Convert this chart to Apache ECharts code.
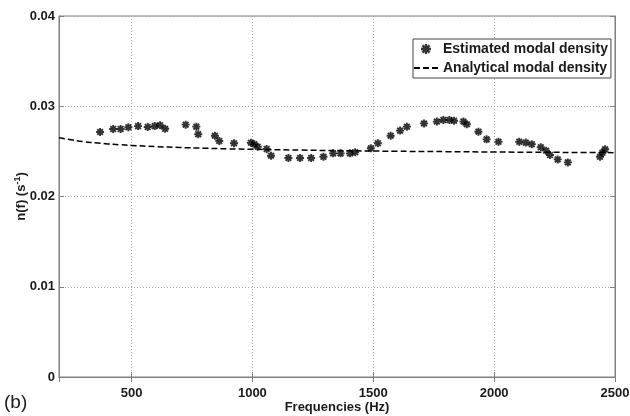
<!DOCTYPE html>
<html>
<head>
<meta charset="utf-8">
<script src="https://cdn.jsdelivr.net/npm/echarts@6/dist/echarts.min.js"></script>
<style>
  html, body { margin: 0; padding: 0; background: #fff; }
  #chart { width: 630px; height: 416px; }
</style>
</head>
<body>
<div id="chart"></div>
<script>
// estimated modal density (Hz, 1/s)
const estFreq = [370, 424, 455, 487, 527, 567, 596, 618, 639, 724, 768, 776,
    845, 863, 924, 994, 1008, 1022, 1059, 1077, 1149, 1197, 1243, 1294, 1334,
    1365, 1404, 1425, 1490, 1519, 1572, 1611, 1639, 1710, 1763, 1790, 1815, 1834,
    1873, 1887, 1935, 1969, 2018, 2104, 2131, 2156, 2193, 2215, 2231, 2263, 2305,
    2438, 2448, 2459];
const estValue = [0.02715, 0.02748, 0.02748, 0.02767, 0.0278, 0.0277, 0.0278, 0.0279, 0.0275, 0.02796, 0.02774, 0.0269,
    0.02674, 0.02615, 0.0259, 0.02596, 0.02578, 0.02552, 0.02526, 0.02452, 0.02427, 0.02427, 0.02427, 0.0244, 0.02478,
    0.02478, 0.02478, 0.0249, 0.02534, 0.0259, 0.02674, 0.0273, 0.02774, 0.0281, 0.0283, 0.02848, 0.02848, 0.0284,
    0.0283, 0.028, 0.02718, 0.02633, 0.02607, 0.02607, 0.02597, 0.0258, 0.02546, 0.02508, 0.0246, 0.02411, 0.02378,
    0.0244, 0.02485, 0.02523];

// analytical modal density
const anaFreq = [200, 250, 300, 350, 400, 450, 500, 600, 700, 800, 900, 1000, 1200, 1400, 1600, 1800, 2000, 2200, 2500];
const anaValue = [0.0265, 0.02628, 0.02608, 0.02595, 0.02583, 0.02574, 0.02566, 0.02553, 0.02543, 0.02535, 0.02528, 0.02523,
    0.02514, 0.02507, 0.02501, 0.02497, 0.02493, 0.0249, 0.02486];

const seriesNames = ['Estimated modal density', 'Analytical modal density'];

const asterisk = 'path://M3.8 0H6.2V10H3.8Z M0 3.8H10V6.2H0Z M0.6 2.3L2.3 0.6L9.4 7.7L7.7 9.4Z M7.7 0.6L9.4 2.3L2.3 9.4L0.6 7.7Z';

const font = 'Liberation Sans, Arial, sans-serif';
const ink = '#1a1a1a';
const frame = '#808080';

const chart = echarts.init(document.getElementById('chart'));

const pair = function (xs, ys) {
    return xs.map(function (x, i) { return [x, ys[i]]; });
};

chart.setOption({
    animation: false,
    textStyle: { fontFamily: font },
    grid: {
        left: 59, right: 15, top: 16, bottom: 39,
        containLabel: false,
        outerBoundsMode: 'none',
        show: true,
        borderColor: frame,
        borderWidth: 1
    },
    graphic: [{
        type: 'text',
        left: 4,
        top: 393,
        style: { text: '(b)', fontSize: 19, fontFamily: font, fill: ink }
    }],
    legend: {
        data: [
            { name: seriesNames[0] },
            { name: seriesNames[1], itemStyle: { opacity: 0 } }
        ],
        orient: 'vertical',
        left: 413,
        top: 39,
        padding: [3, 3, 3, 0],
        itemWidth: 24,
        itemHeight: 10,
        itemGap: 5,
        borderColor: '#444',
        borderWidth: 1,
        backgroundColor: '#fff',
        textStyle: { fontSize: 14, fontWeight: 'bold', color: ink, fontFamily: font }
    },
    xAxis: [{
        type: 'value',
        min: 200,
        max: 2500,
        splitNumber: 5,
        name: 'Frequencies (Hz)',
        nameLocation: 'middle',
        nameGap: 24,
        nameMoveOverlap: false,
        nameTextStyle: { fontSize: 13, fontWeight: 'bold', color: ink },
        axisLine: { lineStyle: { color: frame } },
        axisTick: { inside: true, length: 5, lineStyle: { color: frame } },
        axisLabel: {
            showMinLabel: false, fontSize: 13, fontWeight: 'bold', color: ink, margin: 10,
            formatter: function (v) { return String(v); }
        },
        splitLine: { lineStyle: { type: [1, 2], color: '#aaa' } }
    }, {
        type: 'value',
        position: 'top',
        min: 200,
        max: 2500,
        splitNumber: 5,
        axisLine: { show: true, lineStyle: { color: frame } },
        axisTick: { show: true, inside: true, length: 5, lineStyle: { color: frame } },
        axisLabel: { show: false },
        splitLine: { show: false }
    }],
    yAxis: [{
        type: 'value',
        min: 0,
        max: 0.04,
        interval: 0.01,
        name: 'n(f) (s{sup|-1})',
        nameLocation: 'middle',
        nameGap: 30,
        nameMoveOverlap: false,
        nameTextStyle: {
            fontSize: 13, fontWeight: 'bold', color: ink,
            rich: { sup: { fontSize: 9, fontWeight: 'bold', verticalAlign: 'top', padding: [0, 0, 7, 0], color: ink } }
        },
        axisLine: { lineStyle: { color: frame } },
        axisTick: { inside: true, length: 5, lineStyle: { color: frame } },
        axisLabel: { fontSize: 13, fontWeight: 'bold', color: ink, margin: 4 },
        splitLine: { lineStyle: { type: [1, 2], color: '#aaa' } }
    }, {
        type: 'value',
        position: 'right',
        min: 0,
        max: 0.04,
        interval: 0.01,
        axisLine: { show: true, lineStyle: { color: frame } },
        axisTick: { show: true, inside: true, length: 5, lineStyle: { color: frame } },
        axisLabel: { show: false },
        splitLine: { show: false }
    }],
    series: [{
        name: seriesNames[0],
        type: 'scatter',
        symbol: asterisk,
        symbolSize: 8,
        symbolKeepAspect: true,
        itemStyle: { color: '#000' },
        data: pair(estFreq, estValue),
        z: 3
    }, {
        name: seriesNames[1],
        type: 'line',
        smooth: true,
        symbol: 'none',
        lineStyle: { color: '#000', width: 1.5, type: [6, 3] },
        data: pair(anaFreq, anaValue),
        z: 2
    }]
});
</script>
</body>
</html>
